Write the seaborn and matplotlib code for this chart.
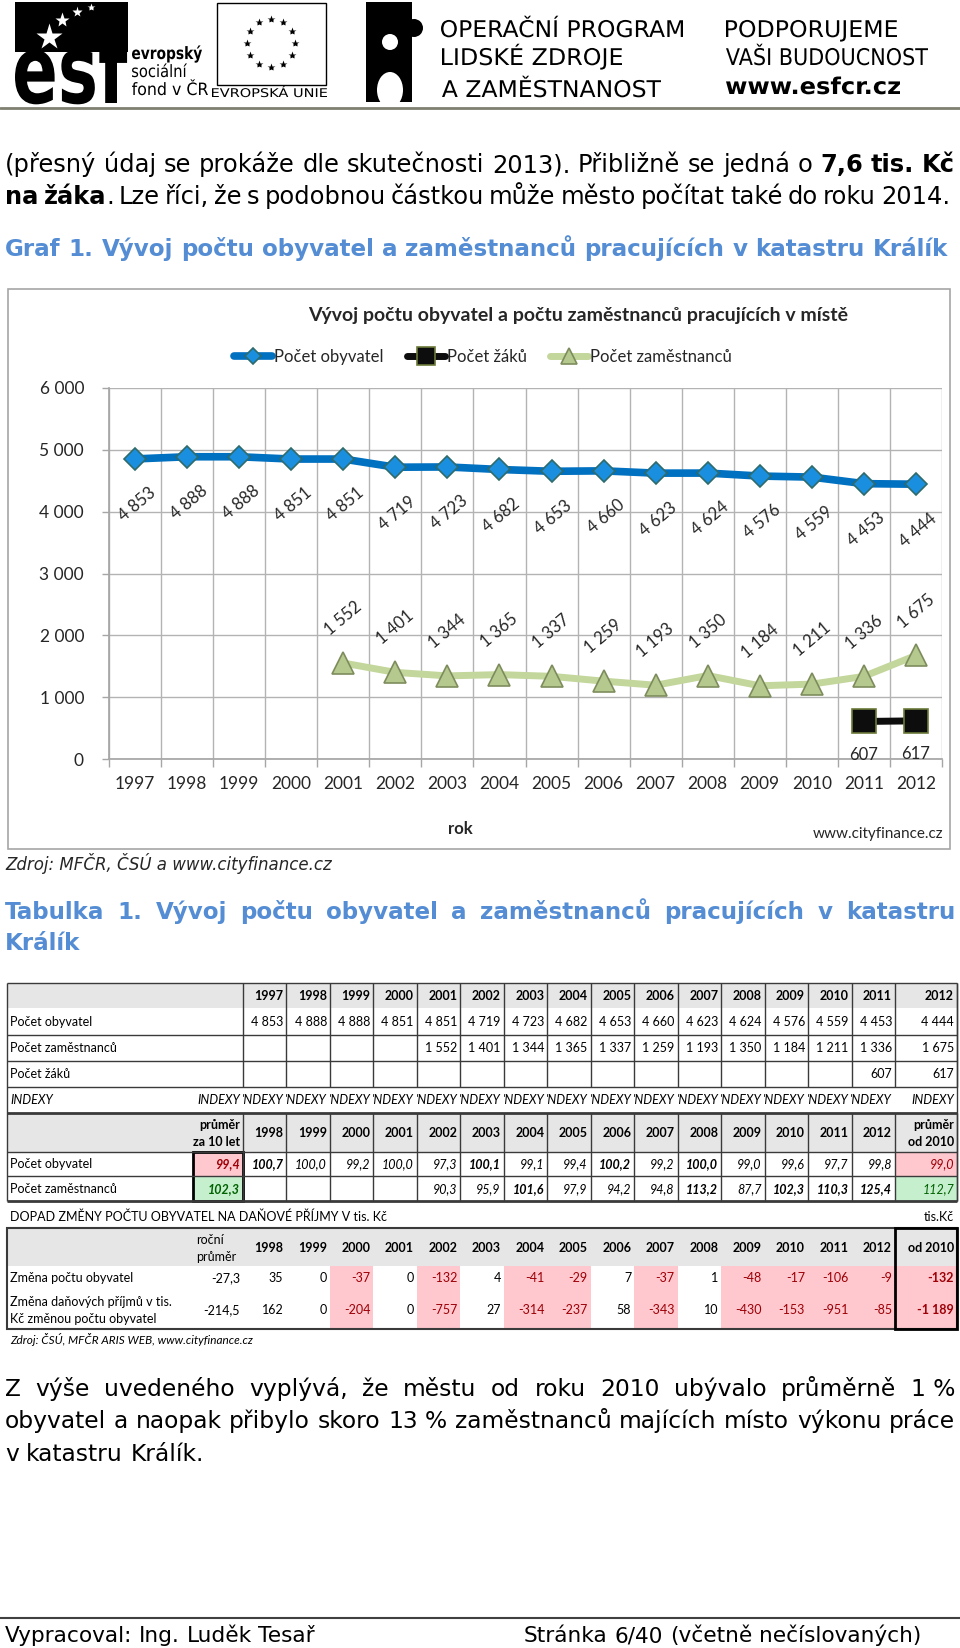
import numpy as np
import pandas as pd
import matplotlib
matplotlib.use("Agg")
import matplotlib.pyplot as plt
import seaborn as sns
from matplotlib.patches import Rectangle, Circle, Ellipse, PathPatch
from matplotlib.textpath import TextPath
from matplotlib.font_manager import FontProperties
from matplotlib.transforms import Affine2D

# ---- data (graf) ----
roky = [1997, 1998, 1999, 2000, 2001, 2002, 2003, 2004, 2005, 2006, 2007, 2008, 2009, 2010, 2011, 2012]
pocet_obyvatel = [4853, 4888, 4888, 4851, 4851, 4719, 4723, 4682, 4653, 4660, 4623, 4624, 4576, 4559, 4453, 4444]
roky_zamestnanci = [2001, 2002, 2003, 2004, 2005, 2006, 2007, 2008, 2009, 2010, 2011, 2012]
pocet_zamestnancu = [1552, 1401, 1344, 1365, 1337, 1259, 1193, 1350, 1184, 1211, 1336, 1675]
roky_zaci = [2011, 2012]
pocet_zaku = [607, 617]
osa_y = [0, 1000, 2000, 3000, 4000, 5000, 6000]

# ---- data (tabulka) ----
roky_index = [1998, 1999, 2000, 2001, 2002, 2003, 2004, 2005, 2006, 2007, 2008, 2009, 2010, 2011, 2012]
index_obyvatel = ["100,7", "100,0", "99,2", "100,0", "97,3", "100,1", "99,1", "99,4", "100,2", "99,2",
                  "100,0", "99,0", "99,6", "97,7", "99,8"]
tucne_obyvatel = [1, 0, 0, 0, 0, 1, 0, 0, 1, 0, 1, 0, 0, 0, 0]
index_zamestnancu = ["", "", "", "", "90,3", "95,9", "101,6", "97,9", "94,2", "94,8", "113,2", "87,7",
                     "102,3", "110,3", "125,4"]
tucne_zamestnancu = [0, 0, 0, 0, 0, 0, 1, 0, 0, 0, 1, 0, 1, 1, 1]
prumer_10_let = ["99,4", "102,3"]
prumer_od_2010 = ["99,0", "112,7"]

zmena_obyvatel = [35, 0, -37, 0, -132, 4, -41, -29, 7, -37, 1, -48, -17, -106, -9]
zmena_prijmu = [162, 0, -204, 0, -757, 27, -314, -237, 58, -343, 10, -430, -153, -951, -85]
rocni_prumer = ["-27,3", "-214,5"]
od_2010 = [-132, -1189]


def fmt(v):
    return f"{v:,}".replace(",", " ")


sns.set_theme(style="white")
plt.rcParams['font.family'] = ['Lato', 'DejaVu Sans']
BODY = ['DejaVu Sans']

fig = plt.figure(figsize=(9.6, 16.48), dpi=100)
bg = fig.add_axes([0, 0, 1, 1])
bg.set_xlim(0, 960)
bg.set_ylim(1648, 0)
bg.axis('off')
renderer = fig.canvas.get_renderer()


def text_w(s, size, weight='normal', family=None):
    t = bg.text(0, 0, s, fontsize=size, fontweight=weight, family=family or BODY)
    w = t.get_window_extent(renderer=renderer).width
    t.remove()
    return w


def radek(y, words, x0, x1, size, color='black', mode='justify', weight='normal', family=None):
    # slova: str nebo seznam kusu (text, vaha); mode: fit / justify / left
    toks = [[(w, weight)] if isinstance(w, str) else w for w in words]

    def mereni(sz):
        ws = [[text_w(p, sz, wt, family) for p, wt in tok] for tok in toks]
        sp = text_w('a a', sz, family=family) - text_w('aa', sz, family=family)
        return ws, sum(sum(w) for w in ws), sp

    widths, tot, sp = mereni(size)
    if mode == 'fit':
        size = size * (x1 - x0) / (tot + sp * (len(toks) - 1))
        widths, tot, sp = mereni(size)
    if mode in ('fit', 'justify') and len(toks) > 1:
        gap = (x1 - x0 - tot) / (len(toks) - 1)
    else:
        gap = sp
    x = x0
    for tok, ws in zip(toks, widths):
        for (p, wt), w in zip(tok, ws):
            bg.text(x, y, p, fontsize=size, fontweight=wt, color=color, family=family or BODY,
                    ha='left', va='baseline')
            x += w
        x += gap
    return size


def path_text(s, x, base, width, size, weight='normal', color='black', family='DejaVu Sans'):
    tp = TextPath((0, 0), s, size=1, prop=FontProperties(family=family, weight=weight))
    e = tp.get_extents()
    tr = Affine2D().translate(-e.x0, 0).scale(width / e.width, -size).translate(x, base)
    bg.add_patch(PathPatch(tr.transform_path(tp), fc=color, ec='none', lw=0))


# ---- hlavicka s logy ----
bg.add_patch(Rectangle((15, 2), 113, 50, fc='black', ec='none'))
path_text("esf", 15, 103, 113, 95, weight='bold')
for (sx, sy, ms) in [(49, 37, 20), (62, 20, 11), (77, 12, 8), (91, 7, 6)]:
    bg.plot(sx, sy, marker='*', color='white', ms=ms, mec='none')
path_text("evropský", 132, 59, 70, 17, weight='bold')
path_text("sociální", 132, 77, 55, 17)
path_text("fond v ČR", 132, 95, 76, 17)

bg.add_patch(Rectangle((217, 3), 109, 82, fill=False, ec='black', lw=1))
for k in range(12):
    a = 2 * np.pi * k / 12
    bg.plot(271 + 24 * np.cos(a), 43 + 24 * np.sin(a), marker='*', color='black', ms=6, mec='none')
path_text("EVROPSKÁ UNIE", 212, 97, 115, 12)

bg.add_patch(Rectangle((366, 2), 46, 100, fc='black', ec='none'))
bg.add_patch(Circle((414, 28), 9, fc='black', ec='none'))
bg.add_patch(Circle((390, 42), 8, fc='white', ec='none'))
bg.add_patch(Ellipse((390, 90), 26, 36, fc='white', ec='none'))

path_text("OPERAČNÍ PROGRAM", 441, 37, 242, 23)
path_text("LIDSKÉ ZDROJE", 442, 65, 180, 23)
path_text("A ZAMĚSTNANOST", 442, 97, 219, 23)
path_text("PODPORUJEME", 726, 37, 171, 23)
path_text("VAŠI BUDOUCNOST", 726, 65, 202, 23)
path_text("www.esfcr.cz", 726, 94, 174, 23, weight='bold')
bg.plot([0, 960], [108, 108], color='#808070', lw=2)

# ---- text nad grafem ----
s1 = radek(172, ["(přesný", "údaj", "se", "prokáže", "dle", "skutečnosti", "2013).", "Přibližně", "se",
                 "jedná", "o", [("7,6", 'bold')], [("tis.", 'bold')], [("Kč", 'bold')]], 5, 955, 14.5,
           mode='fit')
radek(204, [[("na", 'bold')], [("žáka", 'bold'), (".", 'normal')], "Lze", "říci,", "že", "s", "podobnou",
            "částkou", "může", "město", "počítat", "také", "do", "roku", "2014."], 5, 950, s1)
BLUE = '#548dd4'
s_nad = radek(256, "Graf 1. Vývoj počtu obyvatel a zaměstnanců pracujících v katastru Králík".split(),
              5, 948, 14.5, color=BLUE, mode='fit', weight='bold')

# ---- graf ----
bg.add_patch(Rectangle((8, 289), 942, 560, fill=False, ec='#a6a6a6', lw=1.2))
L, R, T, B = 109, 942, 388, 759
ax = fig.add_axes([L / 960, 1 - B / 1648, (R - L) / 960, (B - T) / 1648])
ax.set_facecolor('none')

pos = {r: i for i, r in enumerate(roky)}
x_obyv = [pos[r] for r in roky]
x_zam = [pos[r] for r in roky_zamestnanci]
x_zaci = [pos[r] for r in roky_zaci]

sns.lineplot(x=x_obyv, y=pocet_obyvatel, ax=ax, color='#0070c0', lw=5.5, marker='D', markersize=11,
             markerfacecolor='#1a8fe0', markeredgecolor='#2f6b6b', markeredgewidth=1.2,
             label='Počet obyvatel', zorder=3)
sns.lineplot(x=x_zaci, y=pocet_zaku, ax=ax, color='#0d0d0d', lw=5, marker='s', markersize=17,
             markerfacecolor='#0d0d0d', markeredgecolor='#6b7a3a', markeredgewidth=1.2,
             label='Počet žáků', zorder=3)
sns.lineplot(x=x_zam, y=pocet_zamestnancu, ax=ax, color='#c3d69b', lw=5, marker='^', markersize=16,
             markerfacecolor='#b5c98e', markeredgecolor='#7d8c5c', markeredgewidth=1.2,
             label='Počet zaměstnanců', zorder=3)

for x, v in zip(x_obyv, pocet_obyvatel):
    ax.annotate(fmt(v), (x, v), xytext=(1.5, -33), textcoords='offset points', rotation=40,
                rotation_mode='anchor', ha='center', va='center', fontsize=12)
for x, v in zip(x_zam, pocet_zamestnancu):
    ax.annotate(fmt(v), (x, v), xytext=(0, 32), textcoords='offset points', rotation=40,
                rotation_mode='anchor', ha='center', va='center', fontsize=12)
for x, v in zip(x_zaci, pocet_zaku):
    ax.annotate(fmt(v), (x, v), xytext=(0, -24), textcoords='offset points',
                ha='center', va='center', fontsize=12)

ax.set_xlim(-0.5, 15.5)
ax.set_ylim(0, 6000)
ax.set_yticks(osa_y)
ax.set_yticklabels([fmt(v) for v in osa_y])
ax.set_xticks(range(len(roky)))
ax.set_xticklabels([str(r) for r in roky])
ax.set_xticks(np.arange(-0.5, len(roky), 1), minor=True)
ax.set_xlabel('')
ax.set_ylabel('')
ax.tick_params(axis='x', which='major', bottom=True, length=0, pad=12, labelsize=12.5)
ax.tick_params(axis='x', which='minor', bottom=True, length=6, color='#a6a6a6', width=1, direction='out')
ax.tick_params(axis='y', which='major', left=True, length=5, color='#a6a6a6', width=1, pad=13, labelsize=12.5)
ax.grid(axis='y', which='major', color='#b3b3b3', lw=1)
ax.grid(axis='x', which='minor', color='#b3b3b3', lw=1)
for s in ['top', 'right']:
    ax.spines[s].set_visible(False)
for s in ['left', 'bottom']:
    ax.spines[s].set_color('#a6a6a6')
ax.set_axisbelow(True)

h, l = ax.get_legend_handles_labels()
ax.legend(h, l, loc='center', bbox_to_anchor=(483 / 960, 1 - 357 / 1648), bbox_transform=fig.transFigure,
          ncol=3, frameon=False, fontsize=12, handlelength=2.3, handletextpad=0.1, columnspacing=1.4,
          markerscale=0.75)
fig.text(578 / 960, 1 - 315 / 1648, "Vývoj počtu obyvatel a počtu zaměstnanců pracujících v místě",
         ha='center', va='center', fontsize=14, fontweight='bold')
bg.text(460, 829, "rok", ha='center', va='center', fontsize=12, fontweight='bold')
bg.text(943, 834, "www.cityfinance.cz", ha='right', va='center', fontsize=11)
bg.text(5, 863, "Zdroj: MFČR, ČSÚ a www.cityfinance.cz", ha='left', va='center', fontsize=12,
        fontstyle='italic', family=BODY)

# ---- nadpis tabulky ----
radek(919, "Tabulka 1. Vývoj počtu obyvatel a zaměstnanců pracujících v katastru".split(), 5, 955, s_nad,
      color=BLUE, weight='bold')
radek(950, ["Králík"], 5, 955, s_nad, color=BLUE, mode='left', weight='bold')

# ---- tabulka ----
LINE = '#3a3a3a'
GRAY = '#e6e6e6'
PINK = '#ffc7ce'
GREEN = '#c6efce'
edges = [243 + k * (895 - 243) / 15 for k in range(16)] + [957]


def cell(x, y, s, bold=False, italic=False, color='black', ha='right', size=9):
    bg.text(x, y, s, ha=ha, va='center', fontsize=size, fontweight='bold' if bold else 'normal',
            fontstyle='italic' if italic else 'normal', color=color)


def hline(y, x0=7, x1=957, lw=1):
    bg.plot([x0, x1], [y, y], color=LINE, lw=lw, solid_capstyle='butt')


def vline(x, y0, y1, lw=1):
    bg.plot([x, x], [y0, y1], color=LINE, lw=lw, solid_capstyle='butt')


# tabulka 1
bg.add_patch(Rectangle((7, 983), 950, 25, fc=GRAY, ec='none'))
for k, r in enumerate(roky):
    cell(edges[k + 1] - 3, 996, str(r), bold=True)
ys1 = [1022, 1048, 1074]
for y, lab in zip(ys1, ["Počet obyvatel", "Počet zaměstnanců", "Počet žáků"]):
    cell(10, y, lab, ha='left')
for r, v in zip(roky, pocet_obyvatel):
    cell(edges[pos[r] + 1] - 3, ys1[0], fmt(v))
for r, v in zip(roky_zamestnanci, pocet_zamestnancu):
    cell(edges[pos[r] + 1] - 3, ys1[1], fmt(v))
for r, v in zip(roky_zaci, pocet_zaku):
    cell(edges[pos[r] + 1] - 3, ys1[2], fmt(v))
cell(10, 1100, "INDEXY", italic=True, ha='left')
cell(240, 1100, "INDEXY", italic=True)
for k in range(15):
    cell(edges[k + 1] - 3, 1100, "'NDEXY", italic=True)
cell(954, 1100, "INDEXY", italic=True)
for y in [983, 1035, 1061, 1087]:
    hline(y)
for x in edges:
    vline(x, 983, 1087)
vline(7, 983, 1201)
vline(957, 983, 1201)
hline(1113, lw=2)

# tabulka 2 (indexy)
bg.add_patch(Rectangle((7, 1114), 950, 38, fc=GRAY, ec='none'))
cell(240, 1125, "průměr", bold=True)
cell(240, 1142, "za 10 let", bold=True)
for k, r in enumerate(roky_index):
    cell(edges[k + 1] - 3, 1133, str(r), bold=True)
cell(954, 1125, "průměr", bold=True)
cell(954, 1142, "od 2010", bold=True)
ys2 = [1164, 1189]
cell(10, ys2[0], "Počet obyvatel", ha='left')
cell(10, ys2[1], "Počet zaměstnanců", ha='left')
bg.add_patch(Rectangle((193, 1152), 50, 24, fc=PINK, ec='none'))
bg.add_patch(Rectangle((193, 1176), 50, 25, fc=GREEN, ec='none'))
bg.add_patch(Rectangle((895, 1152), 62, 24, fc=PINK, ec='none'))
bg.add_patch(Rectangle((895, 1176), 62, 25, fc=GREEN, ec='none'))
cell(240, ys2[0], prumer_10_let[0], bold=True, italic=True, color='#9c0006')
cell(240, ys2[1], prumer_10_let[1], bold=True, italic=True, color='#006100')
cell(954, ys2[0], prumer_od_2010[0], italic=True, color='#9c0006')
cell(954, ys2[1], prumer_od_2010[1], italic=True, color='#006100')
for k in range(15):
    cell(edges[k + 1] - 3, ys2[0], index_obyvatel[k], bold=bool(tucne_obyvatel[k]), italic=True)
    if index_zamestnancu[k]:
        cell(edges[k + 1] - 3, ys2[1], index_zamestnancu[k], bold=bool(tucne_zamestnancu[k]), italic=True)
for x in edges:
    vline(x, 1113, 1201)
hline(1152)
hline(1176)
hline(1201, lw=2)
bg.add_patch(Rectangle((193, 1152), 50, 49, fill=False, ec='black', lw=2))

# tabulka 3 (dopad na danove prijmy)
cell(10, 1217, "DOPAD ZMĚNY POČTU OBYVATEL NA DAŇOVÉ PŘÍJMY V tis. Kč", ha='left')
cell(954, 1217, "tis.Kč")
bg.add_patch(Rectangle((7, 1228), 950, 38, fc=GRAY, ec='none'))
cell(196, 1240, "roční", ha='left')
cell(196, 1257, "průměr", ha='left')
for k, r in enumerate(roky_index):
    cell(edges[k + 1] - 3, 1248, str(r), bold=True)
cell(954, 1248, "od 2010", bold=True)
ys3 = [1278, 1310]
for k in range(15):
    w = edges[k + 1] - edges[k]
    if zmena_obyvatel[k] < 0:
        bg.add_patch(Rectangle((edges[k], 1266), w, 25, fc=PINK, ec='none'))
    if zmena_prijmu[k] < 0:
        bg.add_patch(Rectangle((edges[k], 1291), w, 38, fc=PINK, ec='none'))
    c1 = '#9c0006' if zmena_obyvatel[k] < 0 else 'black'
    c2 = '#9c0006' if zmena_prijmu[k] < 0 else 'black'
    cell(edges[k + 1] - 3, ys3[0], fmt(zmena_obyvatel[k]), color=c1)
    cell(edges[k + 1] - 3, ys3[1], fmt(zmena_prijmu[k]), color=c2)
bg.add_patch(Rectangle((895, 1266), 62, 63, fc=PINK, ec='none'))
cell(954, ys3[0], fmt(od_2010[0]), bold=True, color='#9c0006')
cell(954, ys3[1], fmt(od_2010[1]), bold=True, color='#9c0006')
cell(10, ys3[0], "Změna počtu obyvatel", ha='left')
cell(10, 1302, "Změna daňových příjmů v tis.", ha='left')
cell(10, 1319, "Kč změnou počtu obyvatel", ha='left')
cell(240, ys3[0], rocni_prumer[0])
cell(240, ys3[1], rocni_prumer[1])
bg.add_patch(Rectangle((7, 1228), 950, 101, fill=False, ec=LINE, lw=1.5))
bg.add_patch(Rectangle((895, 1228), 62, 101, fill=False, ec='black', lw=2))
cell(10, 1340, "Zdroj: ČSÚ, MFČR ARIS WEB, www.cityfinance.cz", italic=True, ha='left', size=8.5)

# ---- text pod tabulkou ----
s2 = radek(1428, "obyvatel a naopak přibylo skoro 13 % zaměstnanců majících místo výkonu práce".split(),
           5, 955, 14.5, mode='fit')
radek(1396, ["Z", "výše", "uvedeného", "vyplývá,", "že", "městu", "od", "roku", "2010", "ubývalo", "průměrně",
             "1 %"], 5, 955, s2)
radek(1461, "v katastru Králík.".split(), 5, 955, s2, mode='left')

bg.plot([0, 960], [1618, 1618], color='#404040', lw=1.5)
s3 = radek(1642, "Vypracoval: Ing. Luděk Tesař".split(), 5, 315, 13, mode='fit')
radek(1642, "Stránka 6/40 (včetně nečíslovaných)".split(), 524, 912, s3, mode='left')

fig.savefig("out.png", dpi=100)
